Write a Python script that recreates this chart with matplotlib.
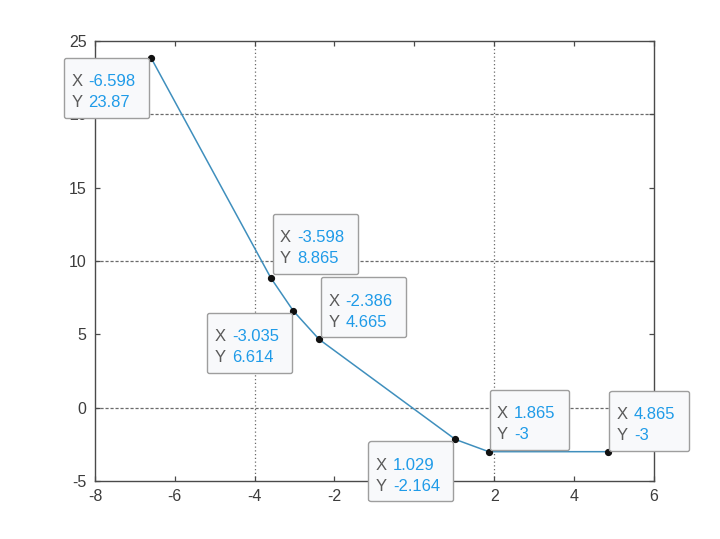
import matplotlib
matplotlib.use('Agg')
import matplotlib.pyplot as plt
from matplotlib.offsetbox import TextArea, HPacker, VPacker, AnnotationBbox, DrawingArea

# ---- data ----
x_vals = [-6.598, -3.598, -3.035, -2.386, 1.029, 1.865, 4.865]
y_vals = [23.87, 8.865, 6.614, 4.665, -2.164, -3, -3]
x_ticks = [-8, -6, -4, -2, 0, 2, 4, 6]
y_ticks = [-5, 0, 5, 10, 15, 20, 25]
grid_x = [-4, 2]
grid_y = [0, 10, 20]
# data-tip box placement: corner of box anchored near point, and pixel offset
tip_align = [(1, 1), (0, 0), (1, 1), (0, 0), (1, 1), (0, 0), (0, 0)]
tip_offset = [(-2, 0), (2, 4), (-1, -2), (2, 2), (-2, -2), (1, 2), (1, 1)]

plt.rcParams['axes.unicode_minus'] = False
plt.rcParams['font.family'] = ['Liberation Sans', 'DejaVu Sans']

LINE_C = '#3f8fbd'
SPINE_C = '#4a4a4a'
LABEL_C = '#3c3c3c'
TIP_GRAY = '#5a5a5a'
TIP_BLUE = '#1f9be8'
FS = 12
TICK_FS = 11.5

fig = plt.figure(figsize=(7.2, 5.39), dpi=100)
ax = fig.add_axes([0.132, 0.1076, 0.776, 0.816])

ax.set_xlim(-8, 6)
ax.set_ylim(-5, 25)
ax.set_xticks(x_ticks)
ax.set_yticks(y_ticks)
ax.set_xticklabels([str(t) for t in x_ticks])
ax.set_yticklabels([str(t) for t in y_ticks])

for gx in grid_x:
    ax.axvline(gx, color='#6a6a6a', lw=0.9, ls=(0, (1, 2)), zorder=1)
for gy in grid_y:
    ax.axhline(gy, color='#6a6a6a', lw=0.9, ls=(0, (2.5, 1.5)), zorder=1)

ax.plot(x_vals, y_vals, color=LINE_C, lw=1.1, zorder=3)
ax.plot(x_vals, y_vals, ls='none', marker='o', ms=4.2, color='#111111', zorder=4)

for sp in ax.spines.values():
    sp.set_color(SPINE_C)
    sp.set_linewidth(1.0)
ax.tick_params(direction='in', length=3.5, width=0.9, color=SPINE_C,
               top=True, right=True, labelsize=TICK_FS, labelcolor=LABEL_C, pad=6)

def fmt(v):
    return '%.4g' % v

for x, y, al, off in zip(x_vals, y_vals, tip_align, tip_offset):
    rows = [DrawingArea(0, 2)]
    for lab, val in (('X', x), ('Y', y)):
        ta_l = TextArea(lab, textprops=dict(color=TIP_GRAY, fontsize=FS))
        ta_v = TextArea(fmt(val), textprops=dict(color=TIP_BLUE, fontsize=FS))
        sp = DrawingArea(0, 0)
        rows.append(HPacker(children=[ta_l, ta_v, sp], align='baseline', pad=0, sep=4.3))
    vp = VPacker(children=rows, align='left', pad=5.3, sep=4.5)
    ab = AnnotationBbox(vp, (x, y), xybox=off, xycoords='data',
                        boxcoords='offset pixels', box_alignment=al,
                        frameon=True, pad=0,
                        bboxprops=dict(boxstyle='round,pad=0,rounding_size=0.15',
                                       fc='#f8f9fb', ec='#9e9e9e', lw=1.0),
                        annotation_clip=False, zorder=10)
    ax.add_artist(ab)

fig.savefig('out.png', dpi=100, facecolor='white')
